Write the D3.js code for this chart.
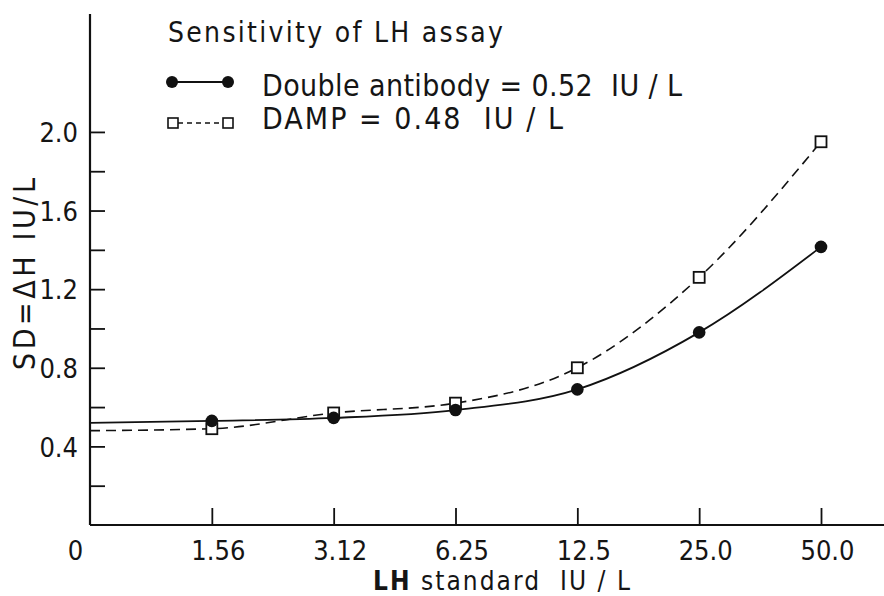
<!DOCTYPE html>
<html>
<head>
<meta charset="utf-8">
<script src="https://cdn.jsdelivr.net/npm/d3@7"></script>
<style>
  html, body { margin: 0; padding: 0; background: #fff; }
  svg { display: block; }
  text { font-family: "DejaVu Sans Condensed", "Liberation Sans Narrow", "Liberation Sans", sans-serif; fill: #151515; }
</style>
</head>
<body>
<svg id="chart" width="884" height="596"></svg>
<script>
// ---- data ----
const xLabels = ["0", "1.56", "3.12", "6.25", "12.5", "25.0", "50.0"];
const standards = ["1.56", "3.12", "6.25", "12.5", "25.0", "50.0"];
const doubleAntibody = [0.53, 0.545, 0.585, 0.69, 0.98, 1.415];
const damp = [0.49, 0.57, 0.62, 0.80, 1.26, 1.95];
const sensitivityNames = ["Double antibody", "DAMP"];
const sensitivityValues = [0.52, 0.48];
const yTicks = [0.2, 0.4, 0.6, 0.8, 1.0, 1.2, 1.4, 1.6, 1.8, 2.0];
const yTickLabels = [0.4, 0.8, 1.2, 1.6, 2.0];

const svg = d3.select("#chart");
const x = d3.scalePoint().domain(xLabels).range([90, 821]);
const y = d3.scaleLinear().domain([0, 2.6]).range([525, 14]);

const ink = "#111";

// axes lines
svg.append("line").attr("x1", 90).attr("x2", 884).attr("y1", y(0)).attr("y2", y(0))
  .attr("stroke", ink).attr("stroke-width", 2.2);
svg.append("line").attr("x1", 90).attr("x2", 90).attr("y1", y(0)).attr("y2", y(2.6))
  .attr("stroke", ink).attr("stroke-width", 2.2);

// y axis ticks
const yAxis = d3.axisLeft(y).tickValues(yTicks).tickSize(-15).tickPadding(12)
  .tickFormat(d => yTickLabels.some(v => Math.abs(v - d) < 1e-9) ? d3.format(".1f")(d) : "");
const gy = svg.append("g").attr("transform", "translate(90,0)").call(yAxis);
gy.select(".domain").remove();
gy.selectAll(".tick line").attr("stroke", ink).attr("stroke-width", 1.8);
gy.selectAll(".tick text").attr("font-size", 27).attr("dy", "0.36em").attr("x", -12)
  .attr("font-family", null);

// x axis ticks
const xAxis = d3.axisBottom(x).tickSize(-17).tickPadding(14);
const gx = svg.append("g").attr("transform", `translate(0,${y(0)})`).call(xAxis);
gx.select(".domain").remove();
gx.selectAll(".tick line").attr("stroke", ink).attr("stroke-width", 1.8)
  .filter(d => d === "0").remove();
gx.selectAll(".tick text").attr("font-size", 27).attr("y", 16).attr("dy", "0.71em")
  .attr("dx", d => d === "0" ? -15 : 6).attr("font-family", null);

// axis titles
svg.append("text").attr("x", 373).attr("y", 590).attr("font-size", 26)
  .attr("textLength", 257).attr("lengthAdjust", "spacing")
  .html('<tspan font-weight="bold">LH</tspan> standard  IU / L')
  .attr("xml:space", "preserve");
svg.append("text").attr("transform", "translate(35,274) rotate(-90)")
  .attr("text-anchor", "middle").attr("font-size", 30)
  .attr("textLength", 192).attr("lengthAdjust", "spacing")
  .text("SD=\u0394H IU/L");

// series
const solidPts = [[xLabels[0], sensitivityValues[0]]].concat(standards.map((s, i) => [s, doubleAntibody[i]]));
const dashPts = [[xLabels[0], sensitivityValues[1]]].concat(standards.map((s, i) => [s, damp[i]]));
const line = d3.line().x(d => x(d[0])).y(d => y(d[1])).curve(d3.curveMonotoneX);

svg.append("path").attr("d", line(solidPts)).attr("fill", "none")
  .attr("stroke", ink).attr("stroke-width", 1.8);
svg.append("path").attr("d", line(dashPts)).attr("fill", "none")
  .attr("stroke", ink).attr("stroke-width", 1.6).attr("stroke-dasharray", "10,6");

svg.append("g").selectAll("rect").data(standards).join("rect")
  .attr("x", (d) => x(d) - 5.5).attr("y", (d, i) => y(damp[i]) - 5.5)
  .attr("width", 11).attr("height", 11).attr("fill", "#fff")
  .attr("stroke", ink).attr("stroke-width", 1.8);
svg.append("g").selectAll("circle").data(standards).join("circle")
  .attr("cx", d => x(d)).attr("cy", (d, i) => y(doubleAntibody[i]))
  .attr("r", 6.3).attr("fill", ink);

// legend
svg.append("text").attr("x", 168).attr("y", 42).attr("font-size", 28)
  .attr("textLength", 335).attr("lengthAdjust", "spacing")
  .text("Sensitivity of LH assay");
const lg = svg.append("g");
lg.append("line").attr("x1", 172).attr("x2", 228).attr("y1", 82).attr("y2", 82)
  .attr("stroke", ink).attr("stroke-width", 1.8);
lg.append("circle").attr("cx", 172).attr("cy", 82).attr("r", 6).attr("fill", ink);
lg.append("circle").attr("cx", 228).attr("cy", 82).attr("r", 6).attr("fill", ink);
lg.append("text").attr("x", 262).attr("y", 96).attr("font-size", 30).attr("xml:space", "preserve")
  .attr("textLength", 420).attr("lengthAdjust", "spacing")
  .text(`${sensitivityNames[0]} = ${sensitivityValues[0].toFixed(2)}  IU / L`);
lg.append("line").attr("x1", 178).attr("x2", 223).attr("y1", 123).attr("y2", 123)
  .attr("stroke", ink).attr("stroke-width", 1.6).attr("stroke-dasharray", "5,4");
lg.append("rect").attr("x", 168).attr("y", 118).attr("width", 10).attr("height", 10)
  .attr("fill", "#fff").attr("stroke", ink).attr("stroke-width", 1.6);
lg.append("rect").attr("x", 223).attr("y", 118).attr("width", 10).attr("height", 10)
  .attr("fill", "#fff").attr("stroke", ink).attr("stroke-width", 1.6);
lg.append("text").attr("x", 262).attr("y", 129).attr("font-size", 30).attr("xml:space", "preserve")
  .attr("textLength", 301).attr("lengthAdjust", "spacing")
  .text(`${sensitivityNames[1]} = ${sensitivityValues[1].toFixed(2)}  IU / L`);
</script>
</body>
</html>
